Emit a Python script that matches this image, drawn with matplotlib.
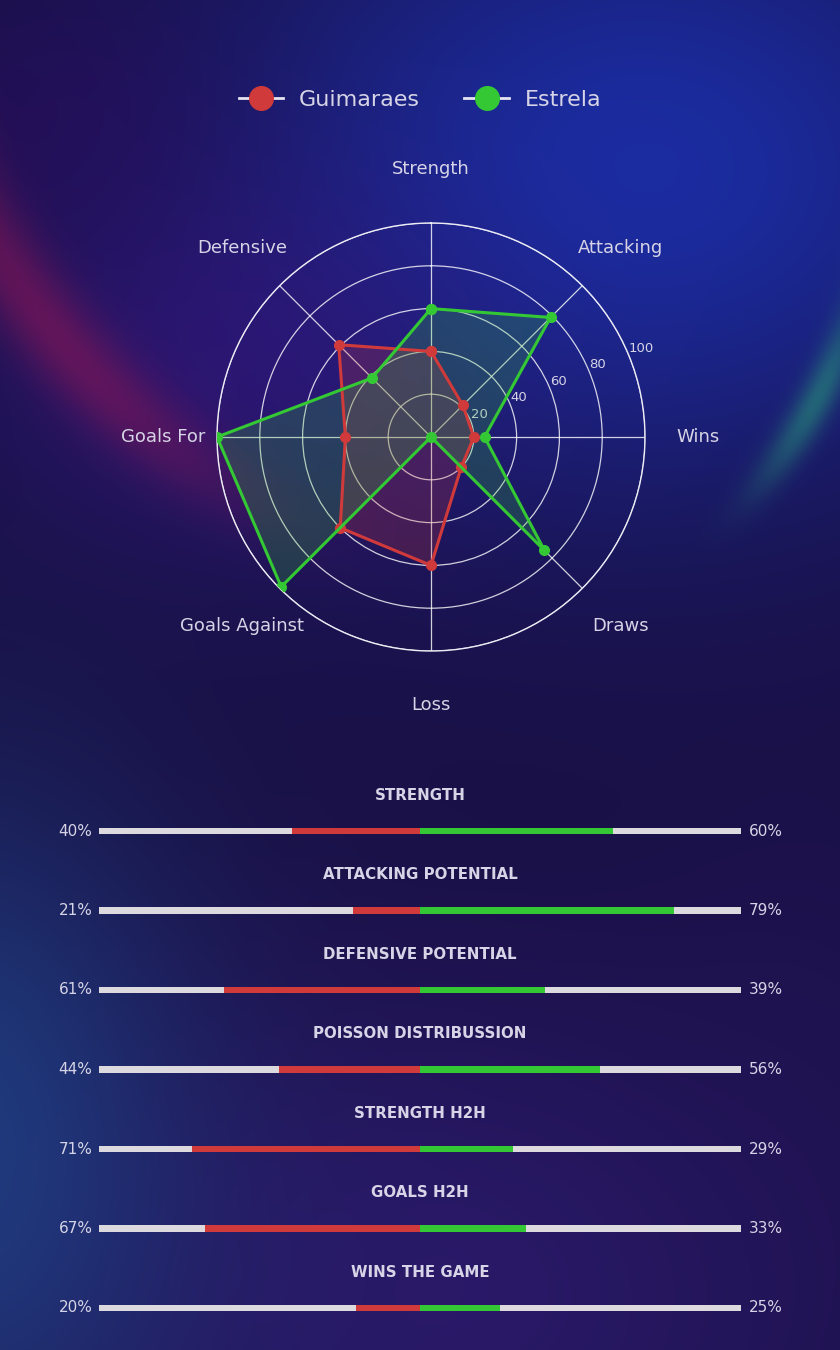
import numpy as np
import matplotlib.pyplot as plt
from matplotlib.lines import Line2D

# radar data
categories = ['Strength', 'Attacking', 'Wins', 'Draws', 'Loss',
              'Goals Against', 'Goals For', 'Defensive']
guimaraes = [40, 21, 20, 20, 60, 60, 40, 61]
estrela = [60, 79, 25, 75, 0, 99, 100, 39]

# comparison bars
bar_titles = ['STRENGTH', 'ATTACKING POTENTIAL', 'DEFENSIVE POTENTIAL',
              'POISSON DISTRIBUSSION', 'STRENGTH H2H', 'GOALS H2H', 'WINS THE GAME']
left_pct = [40, 21, 61, 44, 71, 67, 20]
right_pct = [60, 79, 39, 56, 29, 33, 25]

RED = '#d03a3a'
GREEN = '#34c934'
TXT = '#d6d4e6'
BARGRAY = '#dcdadf'

W, H = 840, 1350
fig = plt.figure(figsize=(W / 100, H / 100), dpi=100)


# ---- background gradient ----
def make_bg():
    yy, xx = np.mgrid[0:H, 0:W].astype(float)
    img = np.ones((H, W, 3)) * np.array([0.095, 0.06, 0.26])

    def mix(a, col):
        nonlocal img
        c = np.array([int(col[i:i + 2], 16) / 255 for i in (1, 3, 5)])
        a = np.clip(a, 0, 1)[..., None]
        img = img * (1 - a) + c * a

    def g(cx, cy, sx, sy):
        return np.exp(-(((xx - cx) / sx) ** 2 + ((yy - cy) / sy) ** 2))

    mix(0.95 * g(640, 170, 430, 330), '#1b2ea6')
    mix(0.55 * g(230, 360, 260, 190), '#3a1684')
    mix(0.5 * g(60, 120, 160, 140), '#2a0c5e')
    # red arc, upper left
    d = np.sqrt((xx - 600) ** 2 + (yy + 130) ** 2)
    mix(0.6 * np.exp(-((d - 715) / 40) ** 2) * np.exp(-((xx - 50) / 190) ** 2), '#8a1656')
    # green arc, right edge
    d2 = np.sqrt((xx - 360) ** 2 + (yy - 160) ** 2)
    mix(0.55 * np.exp(-((d2 - 515) / 18) ** 2) * np.exp(-((yy - 400) / 100) ** 2)
        * (1 / (1 + np.exp(-(xx - 740) / 20))), '#2aa07c')
    # lower section glows
    mix(0.75 * g(430, 1290, 470, 320), '#2f1c74')
    mix(0.8 * g(-40, 1150, 230, 360), '#1f4488')
    mix(0.4 * g(820, 1050, 180, 320), '#231458')
    return img


bg = fig.add_axes([0, 0, 1, 1], zorder=-10)
bg.imshow(make_bg(), aspect='auto', extent=[0, W, H, 0], interpolation='bilinear')
bg.axis('off')

# ---- radar ----
cx, cy, R = 431, 437, 214
ax = fig.add_axes([(cx - R) / W, 1 - (cy + R) / H, 2 * R / W, 2 * R / H], polar=True)
ax.set_facecolor('none')
ax.set_theta_zero_location('N')
ax.set_theta_direction(-1)

n = len(categories)
angles = np.linspace(0, 2 * np.pi, n, endpoint=False)
ang = np.concatenate([angles, angles[:1]])

for vals, col in [(guimaraes, RED), (estrela, GREEN)]:
    v = np.concatenate([vals, vals[:1]])
    ax.fill(ang, v, color=col, alpha=0.22, zorder=2)
    ax.plot(ang, v, color=col, lw=2.2, marker='o', ms=7, zorder=3)

ax.set_ylim(0, 100)
ax.set_yticks([20, 40, 60, 80, 100])
ax.set_yticklabels(['20', '40', '60', '80', '100'], color=TXT, fontsize=9.5)
ax.set_rlabel_position(67.5)
ax.set_xticks(angles)
ax.set_xticklabels([])
ax.grid(color='white', lw=0.9, alpha=0.8)
ax.spines['polar'].set_color('#ececf4')
ax.spines['polar'].set_linewidth(1.0)
ax.tick_params(axis='x', length=0)

for a, lab in zip(angles, categories):
    ax.text(a, 125, lab, ha='center', va='center', color=TXT, fontsize=13)

handles = [
    Line2D([0], [0], color='#e6e4f0', lw=2, marker='o', ms=17,
           markerfacecolor=RED, markeredgecolor=RED, label='Guimaraes'),
    Line2D([0], [0], color='#e6e4f0', lw=2, marker='o', ms=17,
           markerfacecolor=GREEN, markeredgecolor=GREEN, label='Estrela'),
]
fig.legend(handles=handles, loc='center', bbox_to_anchor=(0.5, 1 - 100 / H), ncol=2,
           frameon=False, fontsize=16, labelcolor=TXT, handlelength=2.0,
           handletextpad=0.7, columnspacing=2.0)

# ---- comparison bars ----
bx0, bx1 = 99, 741
row0, step = 831, 79.5
top_px = row0 - step
bot_px = row0 + step * (len(bar_titles) - 0.5)
bax = fig.add_axes([bx0 / W, 1 - bot_px / H, (bx1 - bx0) / W, (bot_px - top_px) / H])
bax.set_facecolor('none')
bax.set_xlim(-100, 100)
bax.set_ylim(len(bar_titles) - 0.5, -1)
bax.axis('off')

rows = np.arange(len(bar_titles))
bh = 0.08
bax.barh(rows, [-100] * len(rows), height=bh, color=BARGRAY)
bax.barh(rows, [100] * len(rows), height=bh, color=BARGRAY)
bax.barh(rows, [-v for v in left_pct], height=bh, color=RED)
bax.barh(rows, right_pct, height=bh, color=GREEN)

for i, t in enumerate(bar_titles):
    bax.text(0, i - 0.45, t, ha='center', va='center', color=TXT,
             fontsize=10.8, fontweight='bold', clip_on=False)
    bax.text(-102, i, f'{left_pct[i]}%', ha='right', va='center', color=TXT,
             fontsize=11, clip_on=False)
    bax.text(102.5, i, f'{right_pct[i]}%', ha='left', va='center', color=TXT,
             fontsize=11, clip_on=False)

fig.savefig('out.png', dpi=100)
